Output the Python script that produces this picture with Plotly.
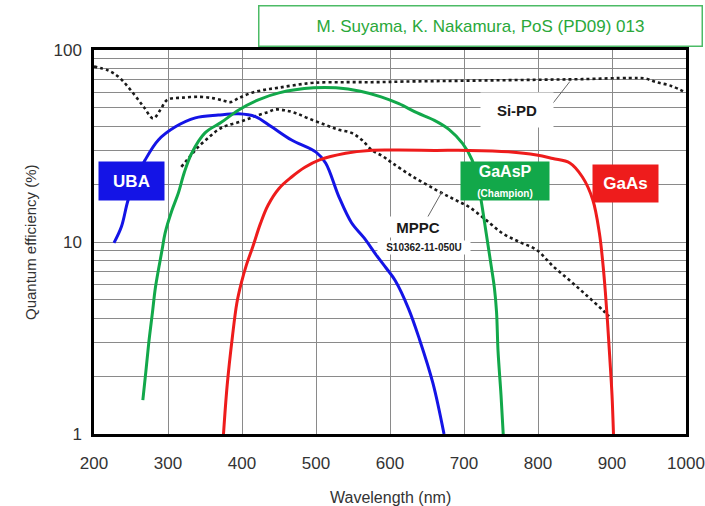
import math
import plotly.graph_objects as go

# ---------------- data ----------------
sipd_wl = [200, 220, 234, 253, 268, 280, 290, 299, 320, 344, 362, 375, 384, 395, 411, 430, 448, 470, 497, 540, 580, 619, 680, 740, 802, 860, 924, 945, 960, 980, 1000]
sipd_qe = [82, 78, 72, 59.5, 50, 44, 49, 55, 56.5, 57, 56, 54.5, 53.5, 56, 59.5, 62, 63.5, 65.5, 67.5, 68, 68, 68.5, 69, 69.5, 70, 70.5, 71.5, 71, 68, 65, 60]

mppc_wl = [318, 330, 341, 355, 368, 380, 395, 410, 422, 435, 445, 458, 472, 490, 513, 530, 548, 562, 576, 590, 603, 630, 662, 685, 707, 730, 752, 775, 798, 820, 843, 865, 888, 896]
mppc_qe = [24.6, 28, 31.3, 35, 38.5, 40.5, 42, 44, 45.8, 47.5, 49, 48.5, 47, 44, 40.7, 38.5, 37, 34, 30, 28, 25.8, 22, 18.7, 16.8, 15.2, 13, 11.1, 10, 9.1, 7.5, 6.3, 5.3, 4.4, 4.1]

uba_wl = [227, 237, 246, 258, 269, 287, 310, 337, 368, 395, 418, 440, 467, 500, 513, 531, 548, 565, 581, 595, 607, 625, 640, 658, 673]
uba_qe = [9.9, 12, 16.5, 22, 26.7, 34, 39.8, 44.3, 45.8, 46.5, 45, 39.8, 34, 29.4, 25.8, 17.2, 12.6, 10.5, 8.6, 7.3, 6.3, 4.5, 3.1, 1.84, 1.0]

gaasp_wl = [266, 270, 274, 279, 283, 292, 296, 305, 314, 322, 332, 350, 372, 395, 422, 450, 497, 527, 560, 588, 612, 637, 660, 680, 698, 711, 718, 723, 730, 737, 741, 744, 746, 750, 753]
gaasp_qe = [1.5, 2.1, 2.98, 4.3, 5.8, 9.1, 11.1, 14.5, 18, 23, 29, 37, 42, 48.6, 55, 59.8, 63.5, 63.5, 61, 57, 52.5, 47, 43, 38.5, 32.6, 26.7, 21, 16.6, 11.1, 7.4, 5.8, 4.3, 2.7, 1.6, 1.0]

gaas_wl = [375, 380, 387, 393, 399, 406, 414, 425, 435, 450, 467, 485, 504, 540, 572, 612, 660, 707, 760, 798, 820, 843, 860, 874, 883, 888, 891, 894, 897, 900, 902]
gaas_qe = [1.0, 1.8, 3.2, 4.8, 6.1, 7.6, 9.3, 12.5, 15.5, 19, 21.8, 24.5, 26.7, 29, 30, 30.1, 30, 30, 29.5, 28.4, 27.2, 25.8, 21.8, 16.6, 11.1, 7.5, 5.5, 3.8, 2.5, 1.6, 1.0]

# leader lines (wavelength, QE)
sipd_leader_wl = [820, 843]
sipd_leader_qe = [52.7, 68.5]
mppc_leader_wl = [650, 670]
mppc_leader_qe = [13.3, 18.2]

x_ticks = [200, 300, 400, 500, 600, 700, 800, 900, 1000]
y_grid = [1, 2, 3, 4, 5, 6, 7, 8, 9, 10, 20, 30, 40, 50, 60, 70, 80, 90, 100]
y_labels = ["1" if v == 1 else "10" if v == 10 else "100" if v == 100 else "" for v in y_grid]

BLUE = "#1414e6"
GREEN = "#12a84a"
RED = "#ee1c1c"
DOT = "#1a1a1a"

fig = go.Figure()

fig.add_trace(go.Scatter(x=sipd_wl, y=sipd_qe, mode="lines", line=dict(color=DOT, width=2.6, dash="dot", shape="spline"), hoverinfo="skip"))
fig.add_trace(go.Scatter(x=mppc_wl, y=mppc_qe, mode="lines", line=dict(color=DOT, width=2.6, dash="dot", shape="spline"), hoverinfo="skip"))
fig.add_trace(go.Scatter(x=uba_wl, y=uba_qe, mode="lines", line=dict(color=BLUE, width=3, shape="spline"), hoverinfo="skip"))
fig.add_trace(go.Scatter(x=gaasp_wl, y=gaasp_qe, mode="lines", line=dict(color=GREEN, width=3, shape="spline"), hoverinfo="skip"))
fig.add_trace(go.Scatter(x=gaas_wl, y=gaas_qe, mode="lines", line=dict(color=RED, width=3, shape="spline"), hoverinfo="skip"))
fig.add_trace(go.Scatter(x=sipd_leader_wl, y=sipd_leader_qe, mode="lines", line=dict(color="#666666", width=1), hoverinfo="skip"))
fig.add_trace(go.Scatter(x=mppc_leader_wl, y=mppc_leader_qe, mode="lines", line=dict(color="#666666", width=1), hoverinfo="skip"))

FONT = "Liberation Sans, Arial, sans-serif"

def box(text, x, y, bg, w, h, size=16, color="white"):
    # annotations on a log axis take log10 positions
    fig.add_annotation(x=x, y=math.log10(y), xref="x", yref="y", text=text, showarrow=False,
                       font=dict(family=FONT, size=size, color=color), bgcolor=bg,
                       width=w, height=h, borderpad=0, align="center", valign="middle")

box("<b>UBA</b>", 251, 20.8, BLUE, 65, 38, size=17)
box("<b>GaAsP</b><br><span style='font-size:10px'><b>(Champion)</b></span>", 755, 20.9, GREEN, 88, 38, size=16)
box("<b>GaAs</b>", 918, 20.2, RED, 65, 37, size=17)
box("<b>Si-PD</b>", 771, 48.7, "white", 72, 34, size=15, color="#1a1a1a")
box("<b>MPPC</b>", 638, 12.0, "white", 64, 20, size=15, color="#1a1a1a")
box("<b>S10362-11-050U</b>", 646, 9.35, "white", 92, 13, size=10, color="#1a1a1a")

L, R, T, B = 94, 19, 50, 72
W, H = 705, 506
pw, ph = W - L - R, H - T - B

def px(xp):
    return (xp - L) / pw

def py(yp):
    return (H - B - yp) / ph

fig.add_annotation(x=px(480.5), y=py(26), xref="paper", yref="paper",
                   xanchor="center", yanchor="middle",
                   text="M. Suyama, K. Nakamura, PoS (PD09) 013", showarrow=False,
                   font=dict(family=FONT, size=17, color="#2aa83a"),
                   bordercolor="#4cbb66", borderwidth=1.5, bgcolor="white", width=440, height=37)

# axis titles
fig.add_annotation(x=px(390), y=py(497), xref="paper", yref="paper", xanchor="center", yanchor="middle",
                   text="Wavelength (nm)", showarrow=False, font=dict(family=FONT, size=16, color="#333333"))
fig.add_annotation(x=px(30), y=py(242), xref="paper", yref="paper", xanchor="center", yanchor="middle",
                   text="Quantum efficiency (%)", textangle=-90, showarrow=False,
                   font=dict(family=FONT, size=15, color="#333333"))

fig.update_layout(
    template="none",
    width=W, height=H,
    margin=dict(l=L, r=R, t=T, b=B, autoexpand=False),
    paper_bgcolor="white", plot_bgcolor="white",
    showlegend=False,
    font=dict(family=FONT, color="#333333"),
    xaxis=dict(range=[200, 1000], tickvals=x_ticks, ticks="", showgrid=True, automargin=False,
               gridcolor="#8a8a8a", gridwidth=1.3, showline=True, mirror=True,
               linecolor="black", linewidth=2.5, zeroline=False,
               ticklabelstandoff=12,
               tickfont=dict(size=17, color="#333333")),
    yaxis=dict(type="log", range=[0, 2], tickvals=y_grid, ticktext=y_labels, ticks="", automargin=False,
               showgrid=True, gridcolor="#8a8a8a", gridwidth=1.3, showline=True, mirror=True,
               linecolor="black", linewidth=2.5, zeroline=False,
               ticklabelstandoff=6,
               tickfont=dict(size=17, color="#333333")),
)

fig.write_html("out.html")
